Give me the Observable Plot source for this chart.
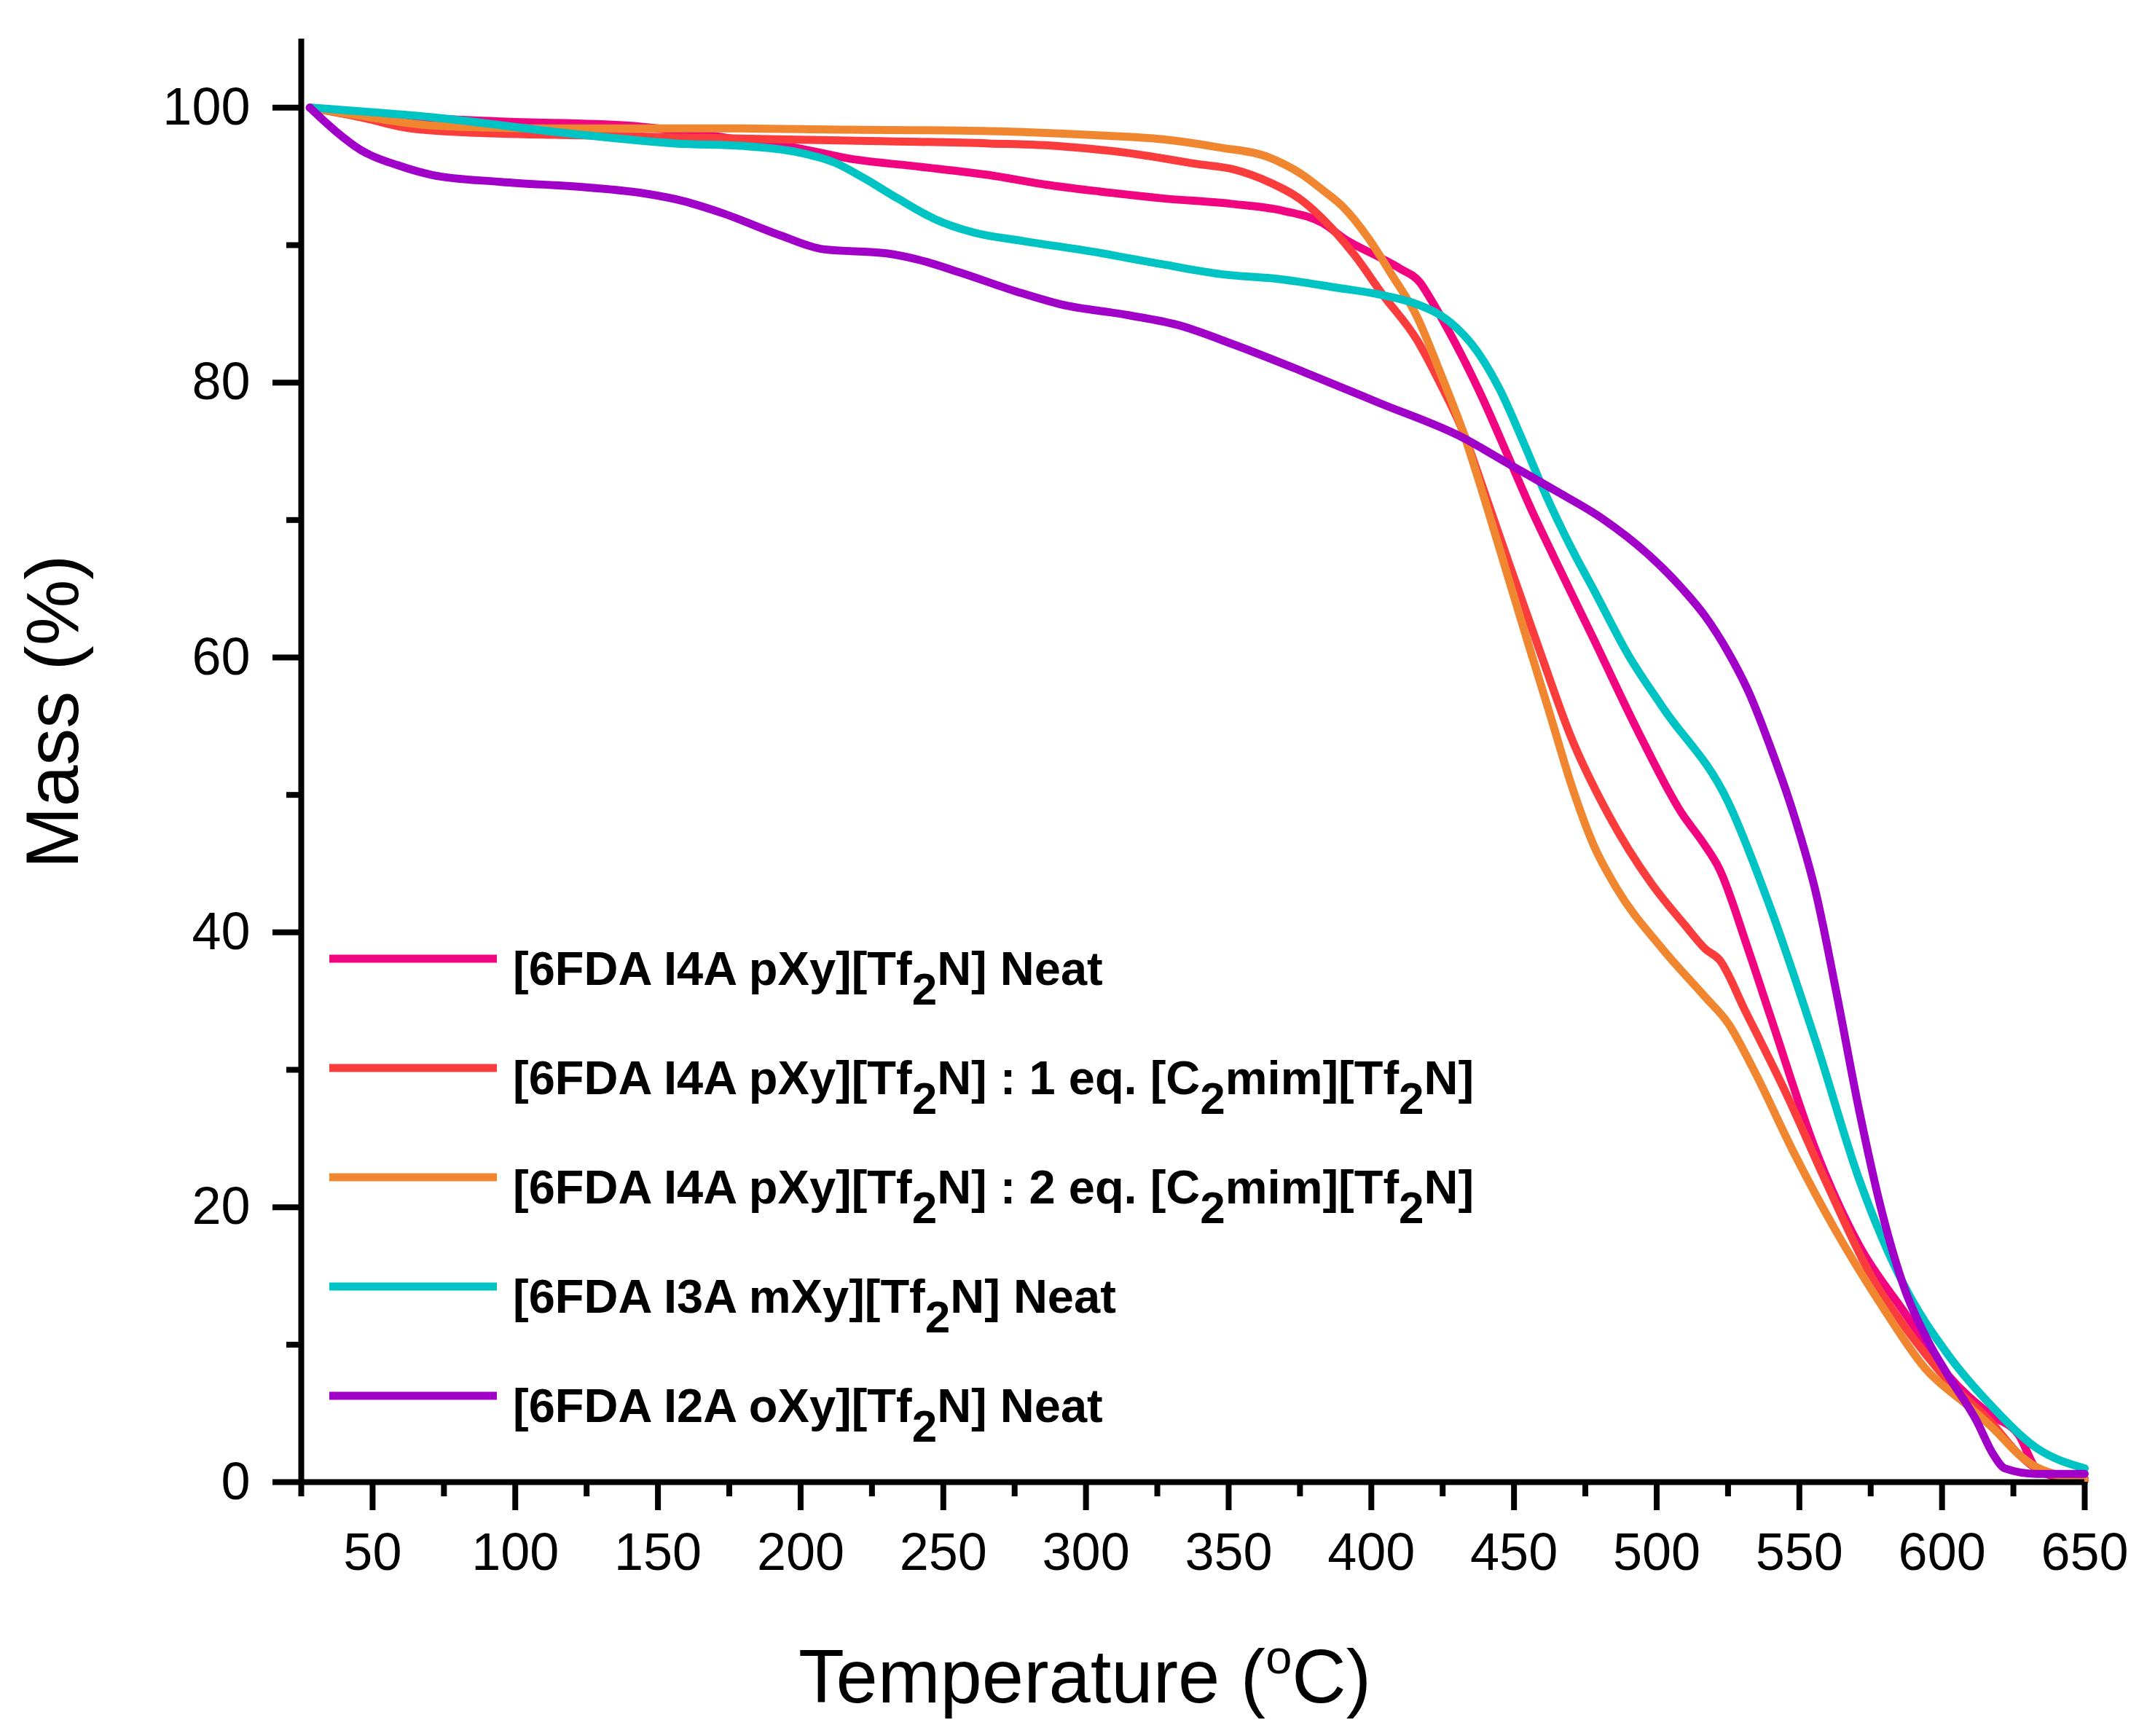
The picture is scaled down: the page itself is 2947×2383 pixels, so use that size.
<!DOCTYPE html>
<html lang="en">
<head>
<meta charset="utf-8">
<title>TGA mass loss of 6FDA ionenes</title>
<script src="https://cdn.jsdelivr.net/npm/d3@7"></script>
<script src="https://cdn.jsdelivr.net/npm/@observablehq/plot@0.6"></script>
<style>
  body { margin: 0; background: #fff; }
  #graphic svg { display: block; }
</style>
</head>
<body>
<div id="graphic"></div>
<script>
// [temperature (C), mass (%)]
const neatPXy = [[28,100],[50,99.5],[95,99.0],[139,98.7],[181,97.6],[198,97.1],[217,96.3],[242,95.7],[266,95.1],[286,94.4],[305,93.9],[327,93.4],[351,93.0],[369,92.5],[383,91.6],[391,90.4],[403,89.1],[410,88.3],[417,87.3],[421,86.0],[427,83.8],[435,80.6],[440,78.4],[448,74.6],[456,70.8],[464,67.3],[478,61.3],[494,54.4],[509,48.6],[516,46.6],[522,44.6],[532,38.8],[540,33.8],[556,24.0],[571,17.2],[587,12.3],[602,7.8],[617,4.9],[627,3.4],[633,1.0],[640,0.4],[650,0.25]];
const oneEq = [[28,100],[46,99.3],[63,98.5],[83,98.2],[120,98.0],[168,97.8],[217,97.6],[266,97.4],[291,97.2],[315,96.7],[339,95.9],[352,95.5],[364,94.6],[376,93.2],[383,91.9],[394,89.3],[404,86.4],[416,83.1],[424,80.0],[432,76.5],[440,71.8],[448,67.0],[459,60.5],[470,54.2],[483,48.6],[498,43.6],[510,40.5],[517,38.8],[522,38.0],[531,34.3],[546,28.0],[559,22.0],[576,14.7],[587,11.3],[602,7.4],[617,4.4],[627,2.0],[633,1.0],[650,0.1]];
const twoEq = [[28,100],[46,99.4],[71,98.7],[107,98.5],[168,98.5],[217,98.4],[266,98.3],[303,98.0],[327,97.7],[347,97.1],[364,96.4],[376,95.1],[383,94.0],[390,92.8],[399,90.5],[407,87.9],[416,84.8],[424,80.8],[432,76.5],[440,71.3],[448,65.8],[455,61.0],[463,55.6],[470,50.8],[478,46.3],[486,43.2],[502,38.8],[517,35.3],[525,33.4],[534,30.0],[548,24.0],[563,18.2],[579,12.8],[594,8.3],[610,5.4],[618,3.9],[627,2.0],[633,1.1],[650,0.2]];
const neatMXy = [[28,100],[71,99.3],[120,98.1],[156,97.4],[181,97.2],[198,96.8],[212,96.0],[222,94.9],[234,93.4],[247,91.9],[261,90.9],[278,90.3],[303,89.5],[327,88.6],[347,87.9],[369,87.5],[388,86.9],[403,86.4],[416,85.7],[427,84.5],[437,82.3],[445,79.5],[453,75.8],[461,71.9],[470,68.0],[478,64.9],[490,60.2],[502,56.4],[525,49.5],[540,41.7],[556,31.9],[571,22.0],[587,14.2],[602,9.3],[618,5.4],[633,2.5],[650,1.0]];
const neatOXy = [[28,100],[37,98.3],[46,96.9],[59,95.8],[71,95.1],[95,94.6],[125,94.2],[144,93.8],[159,93.2],[173,92.3],[193,90.7],[208,89.7],[230,89.4],[242,88.9],[256,88.0],[276,86.6],[291,85.7],[315,84.9],[332,84.2],[352,82.75],[376,80.8],[403,78.5],[432,76.0],[448,74.1],[464,72.2],[481,70.1],[497,67.5],[509,65.0],[517,63.0],[525,60.4],[532,57.6],[540,53.4],[548,48.6],[556,42.7],[563,35.6],[571,27.0],[579,19.6],[587,14.0],[595,10.3],[602,7.8],[612,4.5],[618,2.0],[622,1.0],[633,0.6],[650,0.6]];

const series = [neatPXy, oneEq, twoEq, neatMXy, neatOXy];
// "_2" marks a subscript 2
const seriesNames = [
  "[6FDA I4A pXy][Tf_2N] Neat",
  "[6FDA I4A pXy][Tf_2N] : 1 eq. [C_2mim][Tf_2N]",
  "[6FDA I4A pXy][Tf_2N] : 2 eq. [C_2mim][Tf_2N]",
  "[6FDA I3A mXy][Tf_2N] Neat",
  "[6FDA I2A oXy][Tf_2N] Neat"
];
const seriesColors = ["#F0047F", "#FA3C3C", "#F08730", "#00C4C4", "#A000C8"];

const xMajor = [50, 100, 150, 200, 250, 300, 350, 400, 450, 500, 550, 600, 650];
const xMinor = [25, 75, 125, 175, 225, 275, 325, 375, 425, 475, 525, 575, 625];
const yMajor = [0, 20, 40, 60, 80, 100];
const yMinor = [10, 30, 50, 70, 90];

const font = "'Liberation Sans', Arial, sans-serif";
const W = 2947, H = 2383;
const mL = 413, mR = 86, mT = 53, mB = 349;

const plot = Plot.plot({
  width: W,
  height: H,
  marginTop: mT,
  marginRight: mR,
  marginBottom: mB,
  marginLeft: mL,
  style: {fontFamily: font, background: "#fff", color: "#000"},
  x: {domain: [25, 650], label: null},
  y: {domain: [0, 105], label: null},
  marks: [
    ...series.map((s, i) => Plot.line(s, {
      x: d => d[0], y: d => d[1],
      stroke: seriesColors[i], strokeWidth: 11, curve: "monotone-x"
    })),
    Plot.ruleX([25], {strokeWidth: 8}),
    Plot.ruleY([0], {strokeWidth: 8}),
    Plot.axisX(xMinor, {tickSize: 20, strokeWidth: 8, text: null, label: null}),
    Plot.axisX(xMajor, {tickSize: 39, strokeWidth: 8, tickPadding: 30, fontSize: 72, label: null}),
    Plot.axisY(yMinor, {tickSize: 20, strokeWidth: 8, text: null, label: null}),
    Plot.axisY(yMajor, {tickSize: 39, strokeWidth: 8, tickPadding: 31, fontSize: 72, label: null})
  ]
});

document.getElementById("graphic").appendChild(plot);

const svg = d3.select(plot);

// axis titles
const xt = svg.append("text")
  .attr("x", 1096).attr("y", 2337)
  .attr("text-anchor", "start")
  .attr("font-family", font).attr("font-size", 103).attr("fill", "#000");
xt.append("tspan").text("Temperature (");
xt.append("tspan").attr("font-size", 65).attr("dy", -40).text("o");
xt.append("tspan").attr("dy", 40).text("C)");

svg.append("text")
  .attr("transform", "translate(107,977) rotate(-90)")
  .attr("text-anchor", "middle")
  .attr("font-family", font).attr("font-size", 102).attr("fill", "#000")
  .text("Mass (%)");

// legend
const lg = svg.append("g")
  .attr("text-anchor", "start")
  .attr("font-family", font).attr("font-weight", "bold").attr("font-size", 65);
seriesNames.forEach((name, i) => {
  const y = 1316 + i * 150;
  lg.append("line")
    .attr("x1", 452).attr("x2", 682).attr("y1", y).attr("y2", y)
    .attr("stroke", seriesColors[i]).attr("stroke-width", 11);
  const t = lg.append("text").attr("x", 704).attr("y", y + 36).attr("fill", "#000");
  name.split(/_(\d)/).forEach((part, j) => {
    if (j % 2 === 1) {
      t.append("tspan").attr("font-size", 62).attr("dy", 27).text(part);
    } else if (part) {
      t.append("tspan").attr("dy", j > 0 ? -27 : 0).text(part);
    }
  });
});
</script>
</body>
</html>
